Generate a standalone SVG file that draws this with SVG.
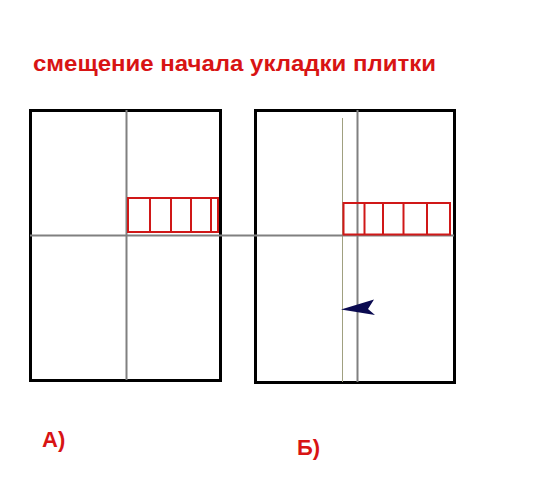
<svg xmlns="http://www.w3.org/2000/svg" width="550" height="500" viewBox="0 0 550 500">
<style>
.frame{fill:none;stroke:#000;stroke-width:3}
.axis{stroke:#808080;stroke-width:2;fill:none}
.tile{fill:none;stroke:#d01818;stroke-width:2}
.lbl{font-family:"Liberation Sans",Arial,sans-serif;font-weight:bold;fill:#d81414}
</style>
<rect width="550" height="500" fill="#fff"/>
<text class="lbl" x="33" y="71" font-size="22.5" textLength="403" lengthAdjust="spacingAndGlyphs">смещение начала укладки плитки</text>
<g id="panelA">
<rect class="frame" x="30.5" y="110.5" width="190" height="270"/>
<line class="axis" x1="126.5" y1="110" x2="126.5" y2="380"/>
</g>
<g id="panelB">
<rect class="frame" x="255.5" y="110.5" width="199" height="272"/>
<line class="axis" x1="357.5" y1="110" x2="357.5" y2="382"/>
<line x1="342.5" y1="118" x2="342.5" y2="382" stroke="#a0a080" stroke-width="1"/>
</g>
<g id="connectors">
<line class="axis" x1="30" y1="235.5" x2="454" y2="235.5"/>
</g>
<g id="tilesA">
<rect class="tile" x="128" y="198" width="90" height="34"/>
<line class="tile" x1="150" y1="198" x2="150" y2="232"/>
<line class="tile" x1="171" y1="198" x2="171" y2="232"/>
<line class="tile" x1="191" y1="198" x2="191" y2="232"/>
<line class="tile" x1="211" y1="198" x2="211" y2="232"/>
</g>
<g id="tilesB">
<rect class="tile" x="343.5" y="203" width="106.5" height="31.5"/>
<line class="tile" x1="364.5" y1="203" x2="364.5" y2="234.5"/>
<line class="tile" x1="383" y1="203" x2="383" y2="234.5"/>
<line class="tile" x1="403.5" y1="203" x2="403.5" y2="234.5"/>
<line class="tile" x1="427" y1="203" x2="427" y2="234.5"/>
</g>
<g id="arrow">
<polygon points="341,309.5 374,299.5 368,309 375,315" fill="#0a0a50"/>
</g>
<text class="lbl" x="42" y="447" font-size="22">А)</text>
<text class="lbl" x="297" y="455" font-size="22">Б)</text>
</svg>
